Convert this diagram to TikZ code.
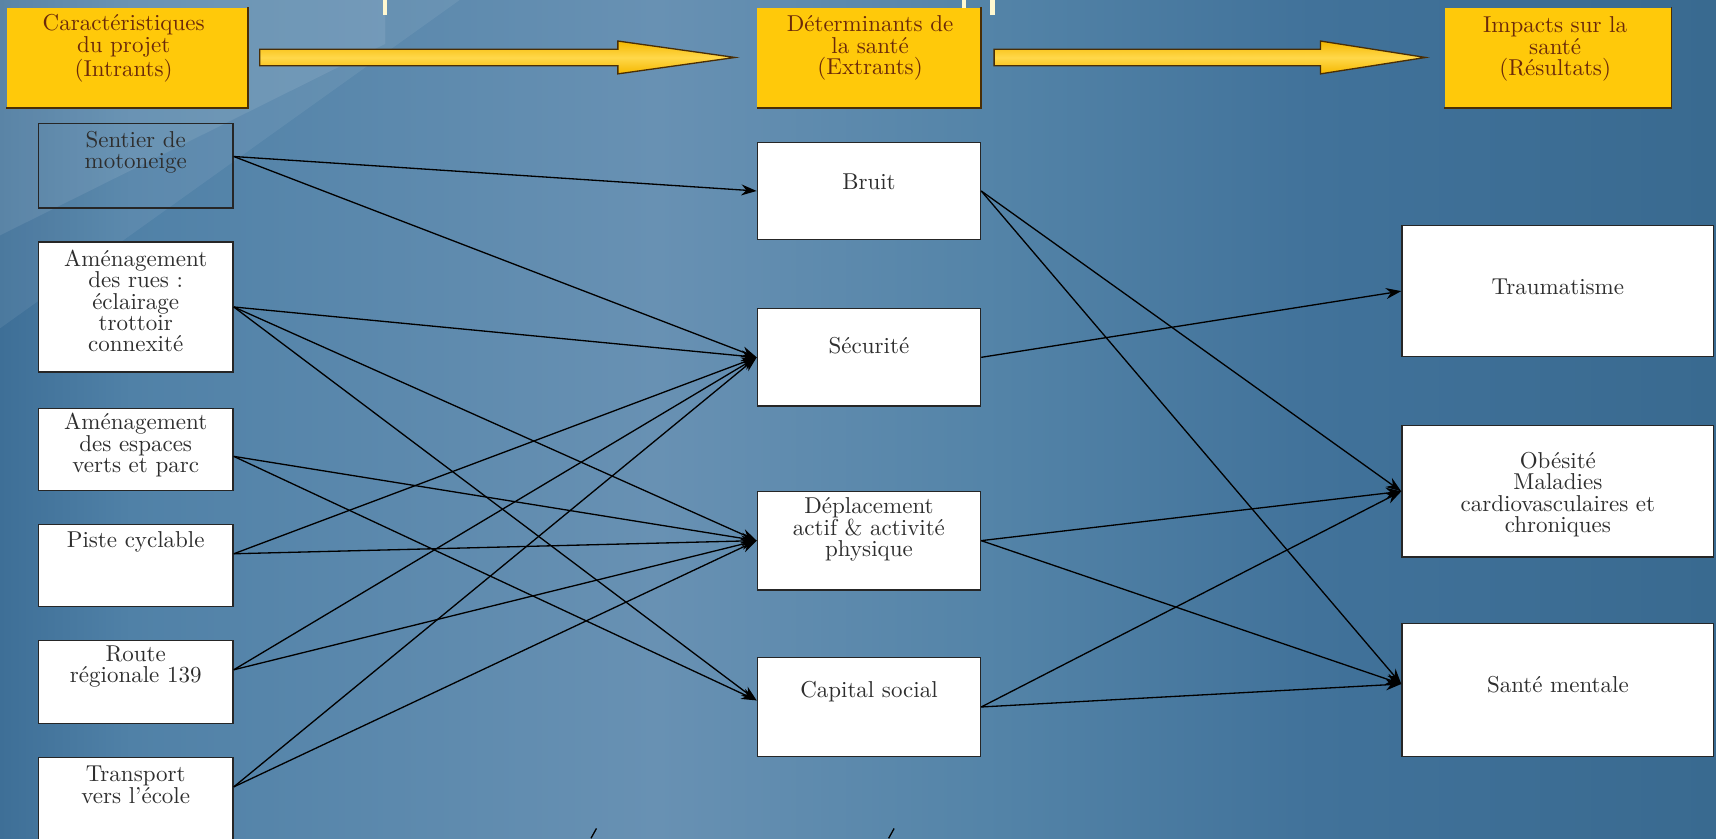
\documentclass[tikz,border=0pt]{standalone}
\usetikzlibrary{calc,arrows.meta}
\definecolor{bg0}{HTML}{3E6F97}
\definecolor{bg1}{HTML}{5081A7}
\definecolor{bg2}{HTML}{6891B3}
\definecolor{bg3}{HTML}{5484A8}
\definecolor{bg4}{HTML}{41729A}
\definecolor{bg5}{HTML}{396A90}
\definecolor{ygold}{HTML}{FFC90A}
\definecolor{ygoldL}{HTML}{FFD84A}
\definecolor{ygoldD}{HTML}{F5B800}
\definecolor{ydark}{HTML}{4A2E05}
\definecolor{ytext}{HTML}{6B2A0A}
\definecolor{btext}{HTML}{2E2E2E}
\definecolor{bline}{HTML}{262626}
\definecolor{ymark}{HTML}{FFF8D0}
\newcommand\blockarrow[3]{%
  \path[yarrow] let \p1=(#1), \p2=(#2) in
    (\x1,\y1+3.75pt) -- (\x2-#3,\y1+3.75pt) -- (\x2-#3,\y1+7.5pt) -- (\x2,\y2)
    -- (\x2-#3,\y1-7.5pt) -- (\x2-#3,\y1-3.75pt) -- (\x1,\y1-3.75pt) -- cycle;}
\begin{document}
\begin{tikzpicture}[x=0.5pt,y=-0.5pt,
  ybox/.style={fill=ygold, inner sep=0pt, minimum height=45.5pt},
  wbox/.style={draw=bline, line width=0.6pt, fill=white, inner sep=0pt},
  tbox/.style={draw=bline, line width=0.6pt, inner sep=0pt},
  ytxt/.style={text=ytext, align=center, font=\fontsize{10.5}{9.8}\selectfont, inner sep=0pt},
  btxt/.style={text=btext, align=center, font=\fontsize{10.5}{9.8}\selectfont, inner sep=0pt},
  conn/.style={draw=black, line width=0.6pt, -{Stealth[length=7pt,width=5pt]}},
  yarrow/.style={draw=ydark, line width=0.6pt, top color=ygoldD, bottom color=ygoldD, middle color=ygoldL},
  yedge/.style={draw=ydark, line width=0.8pt},
]
\useasboundingbox (0,0) rectangle (1568,766);
% background
\shade[left color=bg0, right color=bg1] (0,0) rectangle (120,766);
\shade[left color=bg1, right color=bg2] (119.5,0) rectangle (600,766);
\shade[left color=bg2, right color=bg3] (599.5,0) rectangle (900,766);
\shade[left color=bg3, right color=bg4] (899.5,0) rectangle (1200,766);
\shade[left color=bg4, right color=bg5] (1199.5,0) rectangle (1568,766);
\fill[white, opacity=0.15] (0,0) -- (352,0) -- (352,40) -- (0,215) -- cycle;
\fill[white, opacity=0.07] (0,215) -- (352,40) -- (352,0) -- (420,0) -- (0,300) -- cycle;
% top fragments
\fill[ymark] (350,0) rectangle (354,14);
\fill[ymark] (879,0) rectangle (883,14);
\fill[ymark] (905,0) rectangle (909,14);
% bottom fragments
\draw[black, line width=0.6pt] (540,766) -- (545,757);
\draw[black, line width=0.6pt] (812,766) -- (817,757);

% yellow header boxes
\node[ybox, minimum width=110pt] (y1) at (116,52.5) {};
\node[ybox, minimum width=102pt] (y2) at (794,52.5) {};
\node[ybox, minimum width=103.5pt] (y3) at (1423.5,52.5) {};
\foreach \n in {y1,y2,y3}{\draw[yedge] (\n.north east) -- (\n.south east) -- (\n.south west);}
\node[ytxt] (y1t) at (113,44) {Caractéristiques\\du projet\\(Intrants)};
\node[ytxt] (y2t) at (795,44) {Déterminants de\\la santé\\(Extrants)};
\node[ytxt] (y3t) at (1421,45) {Impacts sur la\\santé\\(Résultats)};

% block arrows
\coordinate (a1s) at ($(y1.east)+(11,0)$);
\coordinate (a1t) at ($(y2.west)+(-20,0)$);
\coordinate (a2s) at ($(y2.east)+(12,0)$);
\coordinate (a2t) at ($(y3.west)+(-17,0)$);
\blockarrow{a1s}{a1t}{53.5pt}
\blockarrow{a2s}{a2t}{48pt}

% left column
\node[tbox, minimum width=89pt, minimum height=38.5pt] (sentier) at (124,151.5) {};
\node[wbox, minimum width=89pt, minimum height=59.5pt] (rues) at (124,280.5) {};
\node[wbox, minimum width=89pt, minimum height=37.5pt] (espaces) at (124,410.5) {};
\node[wbox, minimum width=89pt, minimum height=37.5pt] (piste) at (124,516.5) {};
\node[wbox, minimum width=89pt, minimum height=38pt] (route) at (124,623) {};
\node[wbox, minimum width=89pt, minimum height=38pt] (transport) at (124,730) {};
\node[btxt] (sentiert) at (124,139) {Sentier de\\motoneige};
\node[btxt] (ruest) at (124,275) {Aménagement\\des rues :\\éclairage\\trottoir\\connexité};
\node[btxt] (espacest) at (124,407) {Aménagement\\des espaces\\verts et parc};
\node[btxt] (pistet) at (124,495) {Piste cyclable};
\node[btxt] (routet) at (124,609) {Route\\régionale 139};
\node[btxt] (transportt) at (124,717) {Transport\\vers l'école};

% middle column
\node[wbox, minimum width=102pt, minimum height=44.5pt] (bruit) at (794,174.5) {};
\node[wbox, minimum width=102pt, minimum height=44.5pt] (securite) at (794,326.5) {};
\node[wbox, minimum width=102pt, minimum height=45pt] (deplacement) at (794,494) {};
\node[wbox, minimum width=102pt, minimum height=45pt] (capital) at (794,646) {};
\node[btxt] (bruitt) at (794,166) {Bruit};
\node[btxt] (securitet) at (794,316) {Sécurité};
\node[btxt] (deplacementt) at (794,484) {Déplacement\\actif \& activité\\physique};
\node[btxt] (capitalt) at (794,632) {Capital social};

% right column
\node[wbox, minimum width=142.5pt, minimum height=60pt] (trauma) at (1423.5,266) {};
\node[wbox, minimum width=142.5pt, minimum height=60pt] (obesite) at (1423.5,449) {};
\node[wbox, minimum width=142.5pt, minimum height=60.5pt] (sante) at (1423.5,630.5) {};
\node[btxt] (traumat) at (1423.5,262) {Traumatisme};
\node[btxt] (obesitet) at (1423.5,452) {Obésité\\Maladies\\cardiovasculaires et\\chroniques};
\node[btxt] (santet) at (1423.5,626) {Santé mentale};

% connector end points
\coordinate (sentierR) at ($(sentier.east)+(0,-8.5)$);
\coordinate (espacesR) at ($(espaces.east)+(0,6.5)$);
\coordinate (pisteR) at ($(piste.east)+(0,-10.5)$);
\coordinate (routeR) at ($(route.east)+(0,-11)$);
\coordinate (transportR) at ($(transport.east)+(0,-11)$);
\coordinate (capitalL) at ($(capital.west)+(0,-6)$);
\coordinate (santeL) at ($(sante.west)+(0,-5.5)$);

% connectors left -> middle
\draw[conn] (sentierR) -- (bruit.west);
\draw[conn] (sentierR) -- (securite.west);
\draw[conn] (rues.east) -- (securite.west);
\draw[conn] (rues.east) -- (deplacement.west);
\draw[conn] (rues.east) -- (capitalL);
\draw[conn] (espacesR) -- (deplacement.west);
\draw[conn] (espacesR) -- (capitalL);
\draw[conn] (pisteR) -- (securite.west);
\draw[conn] (pisteR) -- (deplacement.west);
\draw[conn] (routeR) -- (securite.west);
\draw[conn] (routeR) -- (deplacement.west);
\draw[conn] (transportR) -- (securite.west);
\draw[conn] (transportR) -- (deplacement.west);
% connectors middle -> right
\draw[conn] (bruit.east) -- (obesite.west);
\draw[conn] (bruit.east) -- (santeL);
\draw[conn] (securite.east) -- (trauma.west);
\draw[conn] (deplacement.east) -- (obesite.west);
\draw[conn] (deplacement.east) -- (santeL);
\draw[conn] (capital.east) -- (obesite.west);
\draw[conn] (capital.east) -- (santeL);
\end{tikzpicture}
\end{document}
